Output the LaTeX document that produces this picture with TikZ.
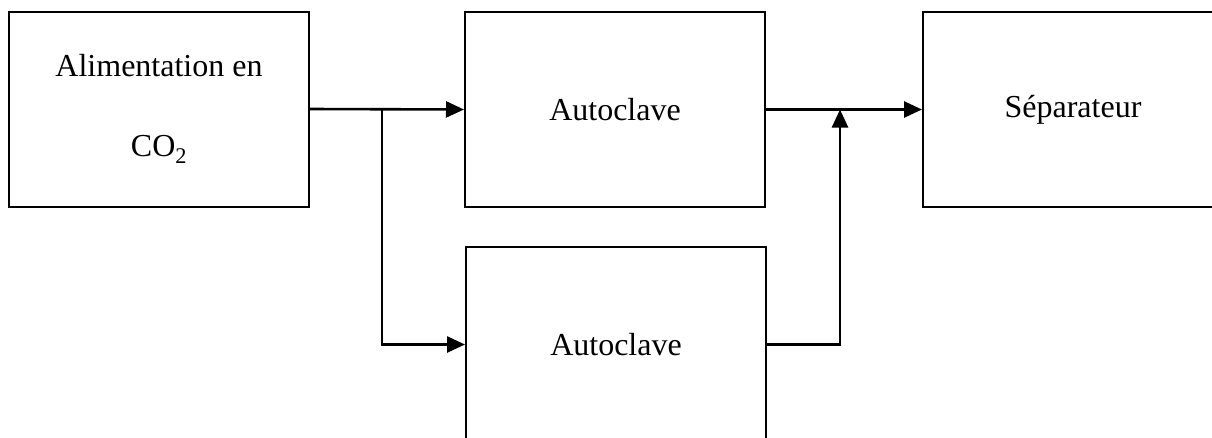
\documentclass[tikz,border=0pt]{standalone}
\usepackage{fontspec}
\setmainfont{Liberation Serif}
\usetikzlibrary{arrows.meta}

\begin{document}
\begin{tikzpicture}[
    x=1pt, y=-1pt,
    stage/.style={draw, line width=2pt, minimum width=300pt, minimum height=195pt,
      align=center, font=\fontsize{32}{80}\selectfont},
    flow/.style={line width=2.6pt, -{Triangle[length=18pt,width=16pt]}}
  ]
  \useasboundingbox (0,0) rectangle (1212,437);

  \node[stage] (feed) at (159,109) {Alimentation en\\CO\textsubscript{2}};
  \node[stage] (autoA) at (615,109.5) {Autoclave};
  \node[stage] (autoB) at (616,344.5) {Autoclave};
  \node[stage] (sep) at (1073,109.5) {Séparateur};

  \coordinate (split) at (382,109);
  \coordinate (merge) at (840,109.5);

  \draw[flow] (feed.east) -- (autoA.west);
  \draw[flow] (split) |- (autoB.west);
  \draw[flow] (autoA.east) -- (sep.west);
  \draw[flow] (autoB.east) -| (merge);
\end{tikzpicture}
\end{document}
